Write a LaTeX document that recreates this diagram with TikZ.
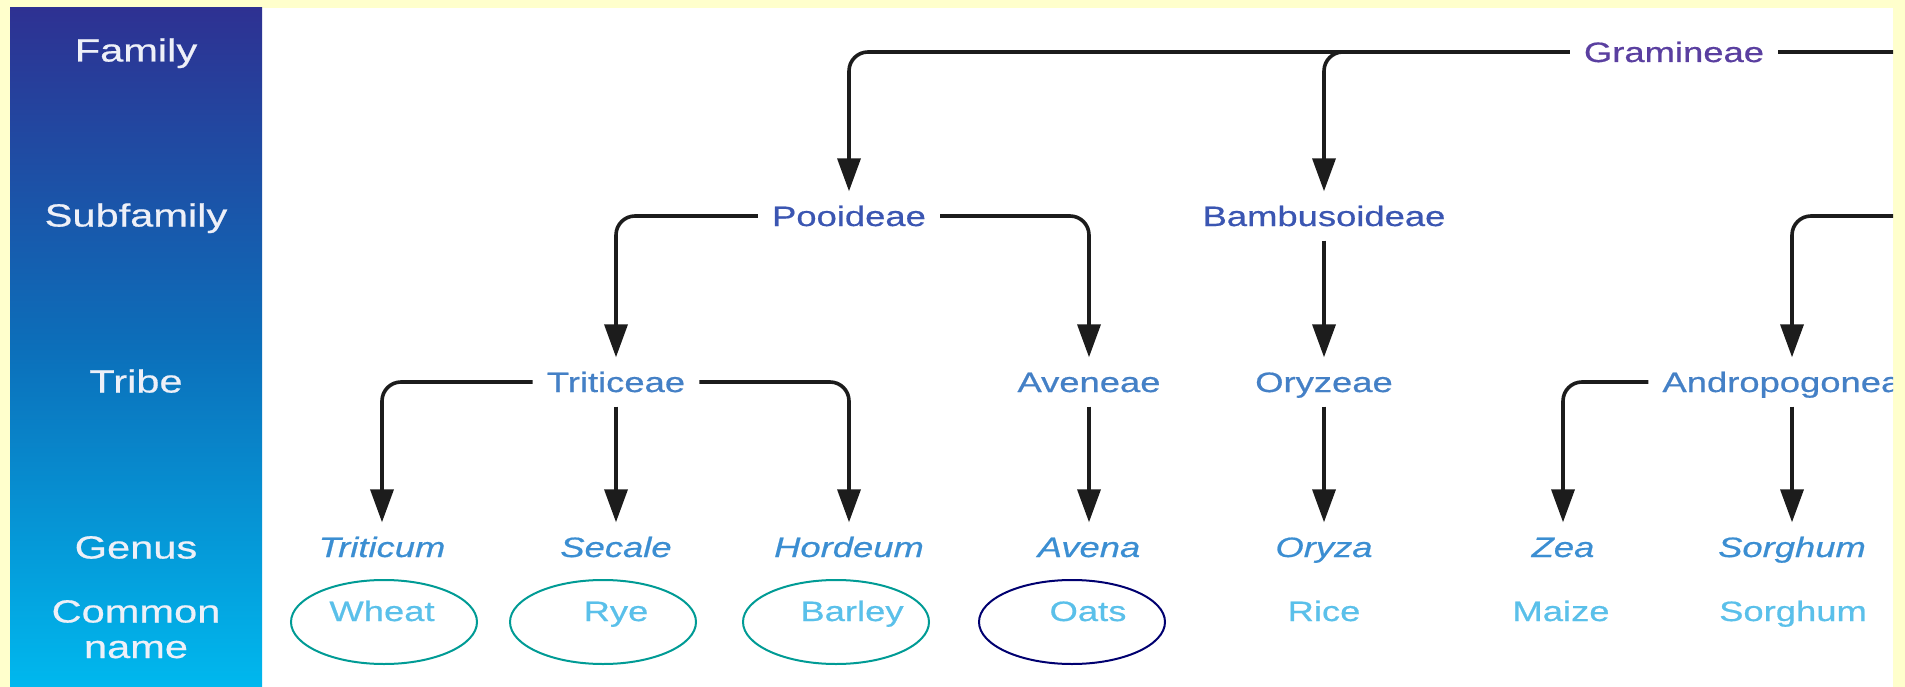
\documentclass[tikz,border=0pt]{standalone}
\usepackage{fontspec}
\setmainfont{Liberation Sans}[FakeStretch=1.3,FakeBold=0.6]
\usetikzlibrary{arrows.meta,shapes.geometric}
\definecolor{bgyellow}{HTML}{FFFFCC}
\definecolor{coltop}{HTML}{2E3192}
\definecolor{colmid}{HTML}{0C6FBA}
\definecolor{colbot}{HTML}{00B8EE}
\definecolor{famc}{HTML}{5A3FA0}
\definecolor{subc}{HTML}{3B56B2}
\definecolor{tribc}{HTML}{4480C6}
\definecolor{genc}{HTML}{3B8ED2}
\definecolor{comc}{HTML}{5AC0EA}
\definecolor{ovteal}{HTML}{009B95}
\definecolor{ovnavy}{HTML}{000070}
\definecolor{arrc}{HTML}{1C1C1C}
\definecolor{lvltext}{HTML}{EEF0F8}
\tikzset{
  lvl/.style={font=\fontsize{32}{36}\selectfont, text=lvltext, inner sep=0pt, text height=23pt, text depth=0pt},
  tx/.style={font=\fontsize{28}{32}\selectfont, inner xsep=14pt, inner ysep=14.5pt, text height=20pt, text depth=0pt},
  famtx/.style={tx, text=famc},
  subtx/.style={tx, text=subc},
  tribtx/.style={tx, text=tribc},
  gentx/.style={tx, text=genc, font=\fontsize{28}{32}\selectfont\itshape},
  comtx/.style={tx, text=comc},
  ln/.style={draw=arrc, line width=3.6pt, rounded corners=19pt},
  arr/.style={ln, -{Triangle[length=33pt,width=23pt]}},
  oval/.style={ellipse, draw, line width=2pt, minimum width=186pt, minimum height=84pt, inner sep=0pt},
}
\begin{document}
\begin{tikzpicture}[x=1pt,y=-1pt]
\useasboundingbox (0,0) rectangle (1905,687);
\fill[bgyellow] (0,0) rectangle (1905,687);
\fill[white] (262,8) rectangle (1893,687);
\shade[top color=coltop, bottom color=colbot, middle color=colmid] (10,8) rectangle (262,687);

% level labels
\node[lvl] (lfam) at (136,50) {Family};
\node[lvl] (lsub) at (136,215) {Subfamily};
\node[lvl] (ltri) at (136,381) {Tribe};
\node[lvl] (lgen) at (136,547) {Genus};
\node[lvl] (lcom) at (136,611) {Common};
\node[lvl] (lnam) at (136,646.5) {name};

\begin{scope}
\clip (262,8) rectangle (1893,687);
% family
\node[famtx] (gram) at (1674,52) {Gramineae};
% subfamily
\node[subtx] (poo) at (849,216) {Pooideae};
\node[subtx] (bam) at (1324,216) {Bambusoideae};
% tribe
\node[tribtx] (triti) at (616,382) {Triticeae};
\node[tribtx] (avene) at (1089,382) {Aveneae};
\node[tribtx] (oryze) at (1324,382) {Oryzeae};
\node[tribtx] (andro) at (1792,382) {Andropogoneae};
% genus
\node[gentx] (triticum) at (382,547) {Triticum};
\node[gentx] (secale) at (616,547) {Secale};
\node[gentx] (hordeum) at (849,547) {Hordeum};
\node[gentx] (avena) at (1089,547) {Avena};
\node[gentx] (oryza) at (1324,547) {Oryza};
\node[gentx] (zea) at (1563,547) {Zea};
\node[gentx] (sorghumg) at (1792,547) {Sorghum};
% common names
\node[comtx] (wheat) at (382,611) {Wheat};
\node[comtx] (rye) at (616,611) {Rye};
\node[comtx] (barley) at (852,611) {Barley};
\node[comtx] (oats) at (1088,611) {Oats};
\node[comtx] (rice) at (1324,611) {Rice};
\node[comtx] (maize) at (1561,611) {Maize};
\node[comtx] (sorghumc) at (1793,611) {Sorghum};
% ovals
\node[oval, draw=ovteal] (ewheat) at (384,622) {};
\node[oval, draw=ovteal] (erye) at (603,622) {};
\node[oval, draw=ovteal] (ebarley) at (836,622) {};
\node[oval, draw=ovnavy] (eoats) at (1072,622) {};

\coordinate (edgeA) at (1900,52);
\coordinate (edgeB) at (1900,216);

% connectors
\draw[ln] (gram.east) -- (edgeA);
\draw[arr] (gram.west) -| (poo.north);
\draw[arr] (gram.west) -| (bam.north);
\draw[arr] (edgeB) -| (andro.north);
\draw[arr] (poo.west) -| (triti.north);
\draw[arr] (poo.east) -| (avene.north);
\draw[arr] (bam.south) -- (oryze.north);
\draw[arr] (triti.west) -| (triticum.north);
\draw[arr] (triti.south) -- (secale.north);
\draw[arr] (triti.east) -| (hordeum.north);
\draw[arr] (avene.south) -- (avena.north);
\draw[arr] (oryze.south) -- (oryza.north);
\draw[arr] (andro.west) -| (zea.north);
\draw[arr] (andro.south) -- (sorghumg.north);
\end{scope}
\end{tikzpicture}
\end{document}
